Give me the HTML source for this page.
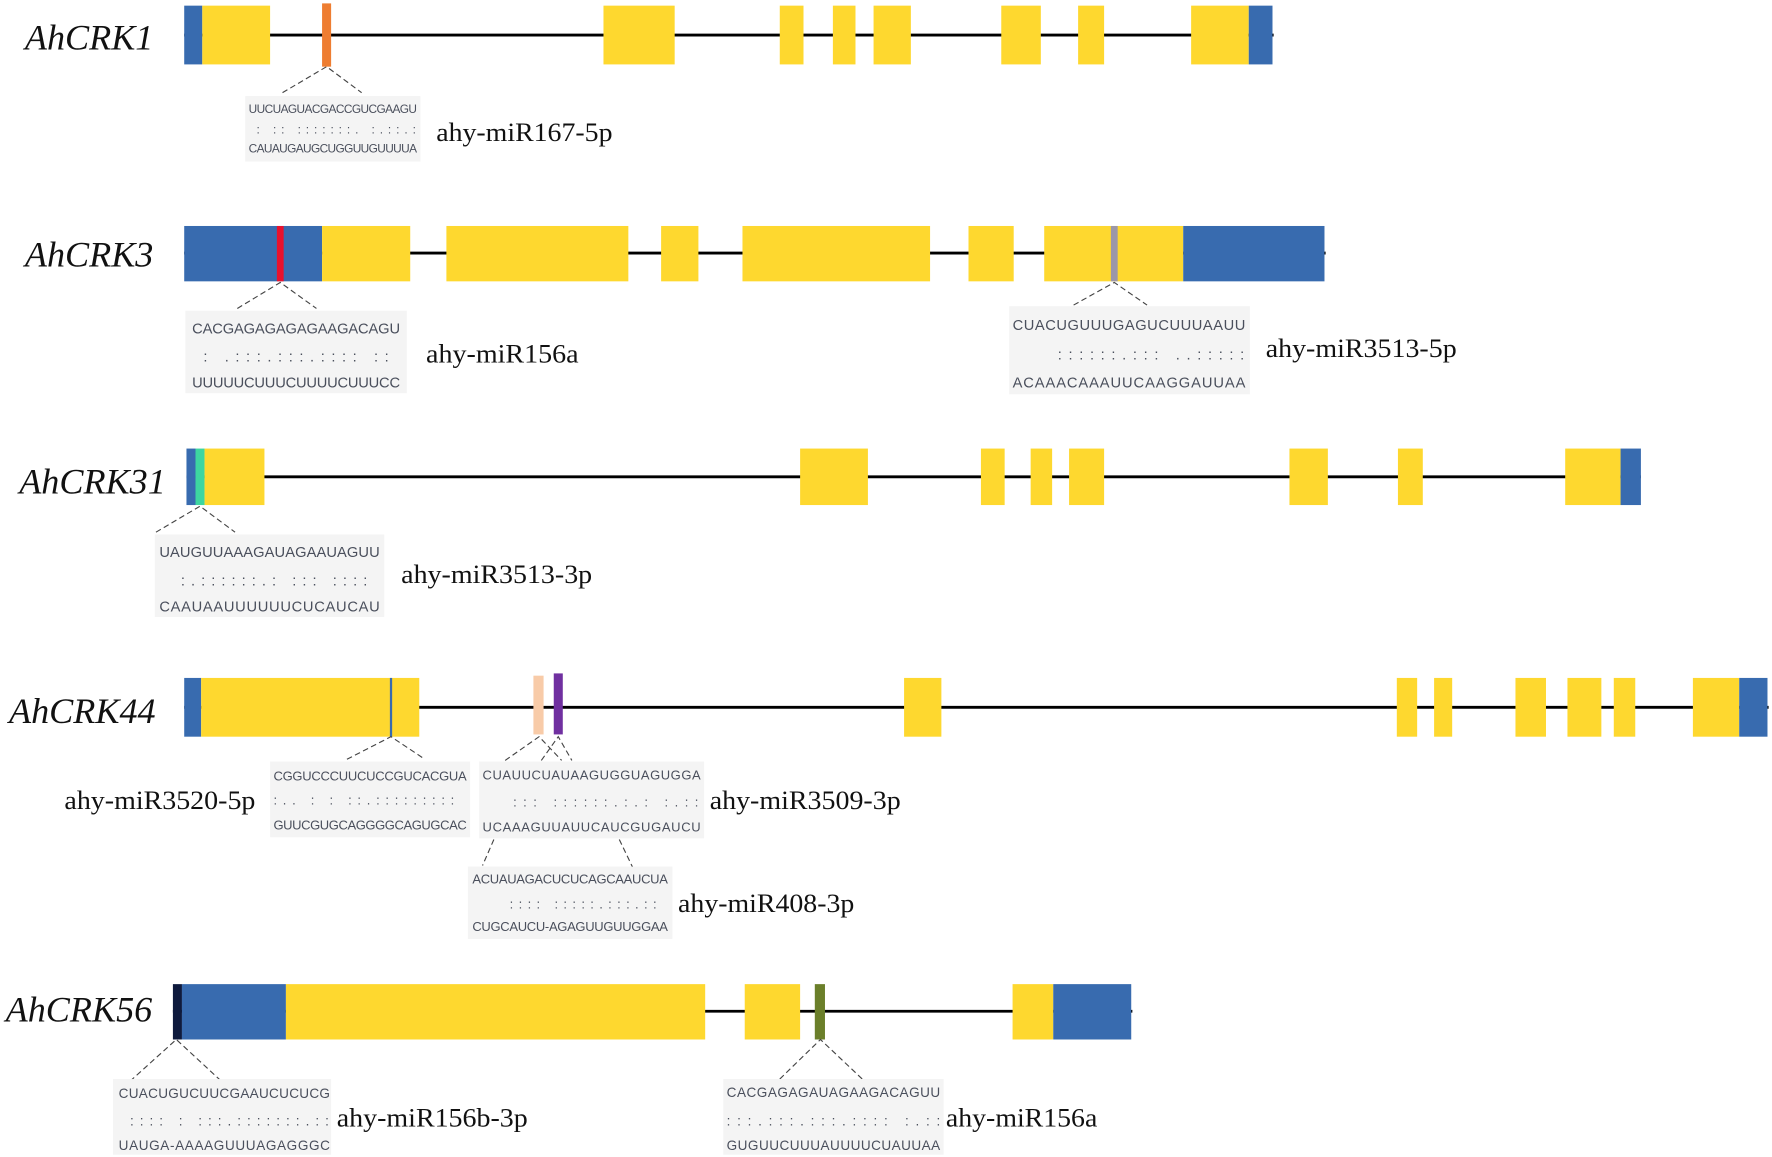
<!DOCTYPE html>
<html><head><meta charset="utf-8"><style>
html,body{margin:0;padding:0;background:#fff;}
svg{display:block;}
.g{font-family:"Liberation Serif",serif;font-style:italic;fill:#111;}
.m{font-family:"Liberation Serif",serif;fill:#111;}
.s{font-family:"Liberation Sans",sans-serif;fill:#4a4f5c;}
.d{stroke:#444;stroke-width:1;stroke-dasharray:5,3;fill:none;}
</style></head><body>
<svg width="1772" height="1157" viewBox="0 0 1568 1024" preserveAspectRatio="none" xmlns="http://www.w3.org/2000/svg">
<g fill="none" stroke="#000" stroke-width="2.5">
<line x1="163" y1="31" x2="1127" y2="31"/>
<line x1="163" y1="224" x2="1173" y2="224"/>
<line x1="165" y1="422" x2="1452" y2="422"/>
<line x1="163" y1="626" x2="1565" y2="626"/>
<line x1="153" y1="895" x2="1002" y2="895"/>
</g>
<!-- AhCRK1 -->
<text class="g" x="22" y="44" font-size="32">AhCRK1</text>
<rect x="163" y="5" width="16" height="52" fill="#386baf"/>
<g fill="#fed82f">
<rect x="179" y="5" width="60" height="52"/><rect x="534" y="5" width="63" height="52"/>
<rect x="690" y="5" width="21" height="52"/><rect x="737" y="5" width="20" height="52"/>
<rect x="773" y="5" width="33" height="52"/><rect x="886" y="5" width="35" height="52"/>
<rect x="954" y="5" width="23" height="52"/><rect x="1054" y="5" width="51" height="52"/>
</g>
<rect x="1105" y="5" width="21" height="52" fill="#386baf"/>
<rect x="285" y="3" width="8" height="56" fill="#ee7d31"/>
<path class="d" d="M250,82 L289,59 L320,82"/>
<rect x="217" y="85" width="155" height="58" fill="#f4f4f4"/>
<text class="s" x="220" y="100" font-size="10.5" textLength="149">UUCUAGUACGACCGUCGAAGU</text>
<text class="s" x="227" y="118" font-size="10.5" textLength="141">: :: :::::::. :.::.:</text>
<text class="s" x="220" y="135" font-size="10.5" textLength="149">CAUAUGAUGCUGGUUGUUUUA</text>
<text class="m" x="386" y="125" font-size="23" textLength="156" lengthAdjust="spacingAndGlyphs">ahy-miR167-5p</text>
<!-- AhCRK3 -->
<text class="g" x="22" y="236" font-size="32">AhCRK3</text>
<rect x="163" y="200" width="122" height="49" fill="#386baf"/>
<rect x="245" y="200" width="6" height="49" fill="#e8112d"/>
<g fill="#fed82f">
<rect x="285" y="200" width="78" height="49"/><rect x="395" y="200" width="161" height="49"/>
<rect x="585" y="200" width="33" height="49"/><rect x="657" y="200" width="166" height="49"/>
<rect x="857" y="200" width="40" height="49"/><rect x="924" y="200" width="123" height="49"/>
</g>
<rect x="1047" y="200" width="125" height="49" fill="#386baf"/>
<rect x="983" y="200" width="6" height="49" fill="#9c97a8"/>
<path class="d" d="M210,273 L248,250 L280,273"/>
<rect x="164" y="275" width="196" height="73" fill="#f4f4f4"/>
<text class="s" x="170" y="295" font-size="13" textLength="184">CACGAGAGAGAGAAGACAGU</text>
<text class="s" x="180" y="320" font-size="13" textLength="164">: .:::.:::.:::: ::</text>
<text class="s" x="170" y="343" font-size="13" textLength="184">UUUUUCUUUCUUUUCUUUCC</text>
<text class="m" x="377" y="321" font-size="23" textLength="135" lengthAdjust="spacingAndGlyphs">ahy-miR156a</text>
<path class="d" d="M950,270 L986,250 L1015,270"/>
<rect x="893" y="271" width="213" height="78" fill="#f4f4f4"/>
<text class="s" x="896" y="292" font-size="13" textLength="206">CUACUGUUUGAGUCUUUAAUU</text>
<text class="s" x="936" y="318" font-size="13" textLength="165">::::::.::: ..:::::</text>
<text class="s" x="896" y="343" font-size="13" textLength="206">ACAAACAAAUUCAAGGAUUAA</text>
<text class="m" x="1120" y="316" font-size="23" textLength="169" lengthAdjust="spacingAndGlyphs">ahy-miR3513-5p</text>
<!-- AhCRK31 -->
<text class="g" x="17" y="437" font-size="32">AhCRK31</text>
<rect x="165" y="397" width="8" height="50" fill="#386baf"/>
<rect x="173" y="397" width="8" height="50" fill="#3dd6a0"/>
<g fill="#fed82f">
<rect x="181" y="397" width="53" height="50"/><rect x="708" y="397" width="60" height="50"/>
<rect x="868" y="397" width="21" height="50"/><rect x="912" y="397" width="19" height="50"/>
<rect x="946" y="397" width="31" height="50"/><rect x="1141" y="397" width="34" height="50"/>
<rect x="1237" y="397" width="22" height="50"/><rect x="1385" y="397" width="49" height="50"/>
</g>
<rect x="1434" y="397" width="18" height="50" fill="#386baf"/>
<path class="d" d="M138,471 L177,448 L208,471"/>
<rect x="137" y="473" width="203" height="73" fill="#f4f4f4"/>
<text class="s" x="141" y="493" font-size="13" textLength="195">UAUGUUAAAGAUAGAAUAGUU</text>
<text class="s" x="160" y="518" font-size="13" textLength="165">:.::::::.: ::: ::::</text>
<text class="s" x="141" y="541" font-size="13" textLength="195">CAAUAAUUUUUUCUCAUCAU</text>
<text class="m" x="355" y="516" font-size="23" textLength="169" lengthAdjust="spacingAndGlyphs">ahy-miR3513-3p</text>
<!-- AhCRK44 -->
<text class="g" x="8" y="640" font-size="32">AhCRK44</text>
<rect x="163" y="600" width="15" height="52" fill="#386baf"/>
<g fill="#fed82f">
<rect x="178" y="600" width="193" height="52"/><rect x="800" y="600" width="33" height="52"/>
<rect x="1236" y="600" width="18" height="52"/><rect x="1269" y="600" width="16" height="52"/>
<rect x="1341" y="600" width="27" height="52"/><rect x="1387" y="600" width="30" height="52"/>
<rect x="1428" y="600" width="19" height="52"/><rect x="1498" y="600" width="41" height="52"/>
</g>
<rect x="1539" y="600" width="25" height="52" fill="#386baf"/>
<rect x="345" y="600" width="2" height="52" fill="#386baf"/>
<rect x="472" y="598" width="9" height="52" fill="#f8cba8"/>
<rect x="490" y="596" width="8" height="54" fill="#7030a0"/>
<path class="d" d="M307,672 L346,652 L376,672"/>
<rect x="239" y="674" width="177" height="67" fill="#f4f4f4"/>
<text class="s" x="242" y="691" font-size="11.5" textLength="171">CGGUCCCUUCUCCGUCACGUA</text>
<text class="s" x="242" y="712" font-size="11.5" textLength="160">:.. : : ::.:::::::::</text>
<text class="s" x="242" y="734" font-size="11.5" textLength="171">GUUCGUGCAGGGGCAGUGCAC</text>
<text class="m" x="57" y="716" font-size="23" textLength="169" lengthAdjust="spacingAndGlyphs">ahy-miR3520-5p</text>
<path class="d" d="M447,673 L477,652 L497,673 M479,673 L494,652 L506,673"/>
<rect x="424" y="674" width="199" height="68" fill="#f4f4f4"/>
<text class="s" x="427" y="690" font-size="11.5" textLength="193">CUAUUCUAUAAGUGGUAGUGGA</text>
<text class="s" x="454" y="714" font-size="11.5" textLength="164">::: ::::::.:.: :.::</text>
<text class="s" x="427" y="736" font-size="11.5" textLength="193">UCAAAGUUAUUCAUCGUGAUCU</text>
<text class="m" x="628" y="716" font-size="23" textLength="169" lengthAdjust="spacingAndGlyphs">ahy-miR3509-3p</text>
<path class="d" d="M437,743 L427,766 M548,743 L560,768"/>
<rect x="414" y="767" width="181" height="64" fill="#f4f4f4"/>
<text class="s" x="418" y="782" font-size="11.5" textLength="173">ACUAUAGACUCUCAGCAAUCUA</text>
<text class="s" x="451" y="804" font-size="11.5" textLength="130">:::: :::::.:::.::</text>
<text class="s" x="418" y="824" font-size="11.5" textLength="173">CUGCAUCU-AGAGUUGUUGGAA</text>
<text class="m" x="600" y="807" font-size="23" textLength="156" lengthAdjust="spacingAndGlyphs">ahy-miR408-3p</text>
<!-- AhCRK56 -->
<text class="g" x="5" y="904" font-size="32">AhCRK56</text>
<rect x="153" y="871" width="8" height="49" fill="#0e1a3d"/>
<rect x="161" y="871" width="92" height="49" fill="#386baf"/>
<g fill="#fed82f">
<rect x="253" y="871" width="371" height="49"/><rect x="659" y="871" width="49" height="49"/>
<rect x="896" y="871" width="36" height="49"/>
</g>
<rect x="932" y="871" width="69" height="49" fill="#386baf"/>
<rect x="721" y="871" width="9" height="49" fill="#6b7f2a"/>
<path class="d" d="M115,957 L156,920 L196,957"/>
<rect x="100" y="955" width="193" height="67" fill="#f4f4f4"/>
<text class="s" x="105" y="972" font-size="12" textLength="187">CUACUGUCUUCGAAUCUCUCG</text>
<text class="s" x="115" y="996" font-size="12" textLength="176">:::: : :::.:::::::.::</text>
<text class="s" x="105" y="1018" font-size="12" textLength="187">UAUGA-AAAAGUUUAGAGGGC</text>
<text class="m" x="298" y="997" font-size="23" textLength="169" lengthAdjust="spacingAndGlyphs">ahy-miR156b-3p</text>
<path class="d" d="M690,955 L726,920 L763,955"/>
<rect x="640" y="955" width="195" height="67" fill="#f4f4f4"/>
<text class="s" x="643" y="971" font-size="12" textLength="189">CACGAGAGAUAGAAGACAGUU</text>
<text class="s" x="643" y="996" font-size="12" textLength="189">:::.:::.:::.:::: :.::</text>
<text class="s" x="643" y="1018" font-size="12" textLength="189">GUGUUCUUUAUUUUCUAUUAA</text>
<text class="m" x="837" y="997" font-size="23" textLength="134" lengthAdjust="spacingAndGlyphs">ahy-miR156a</text>
</svg>
</body></html>
